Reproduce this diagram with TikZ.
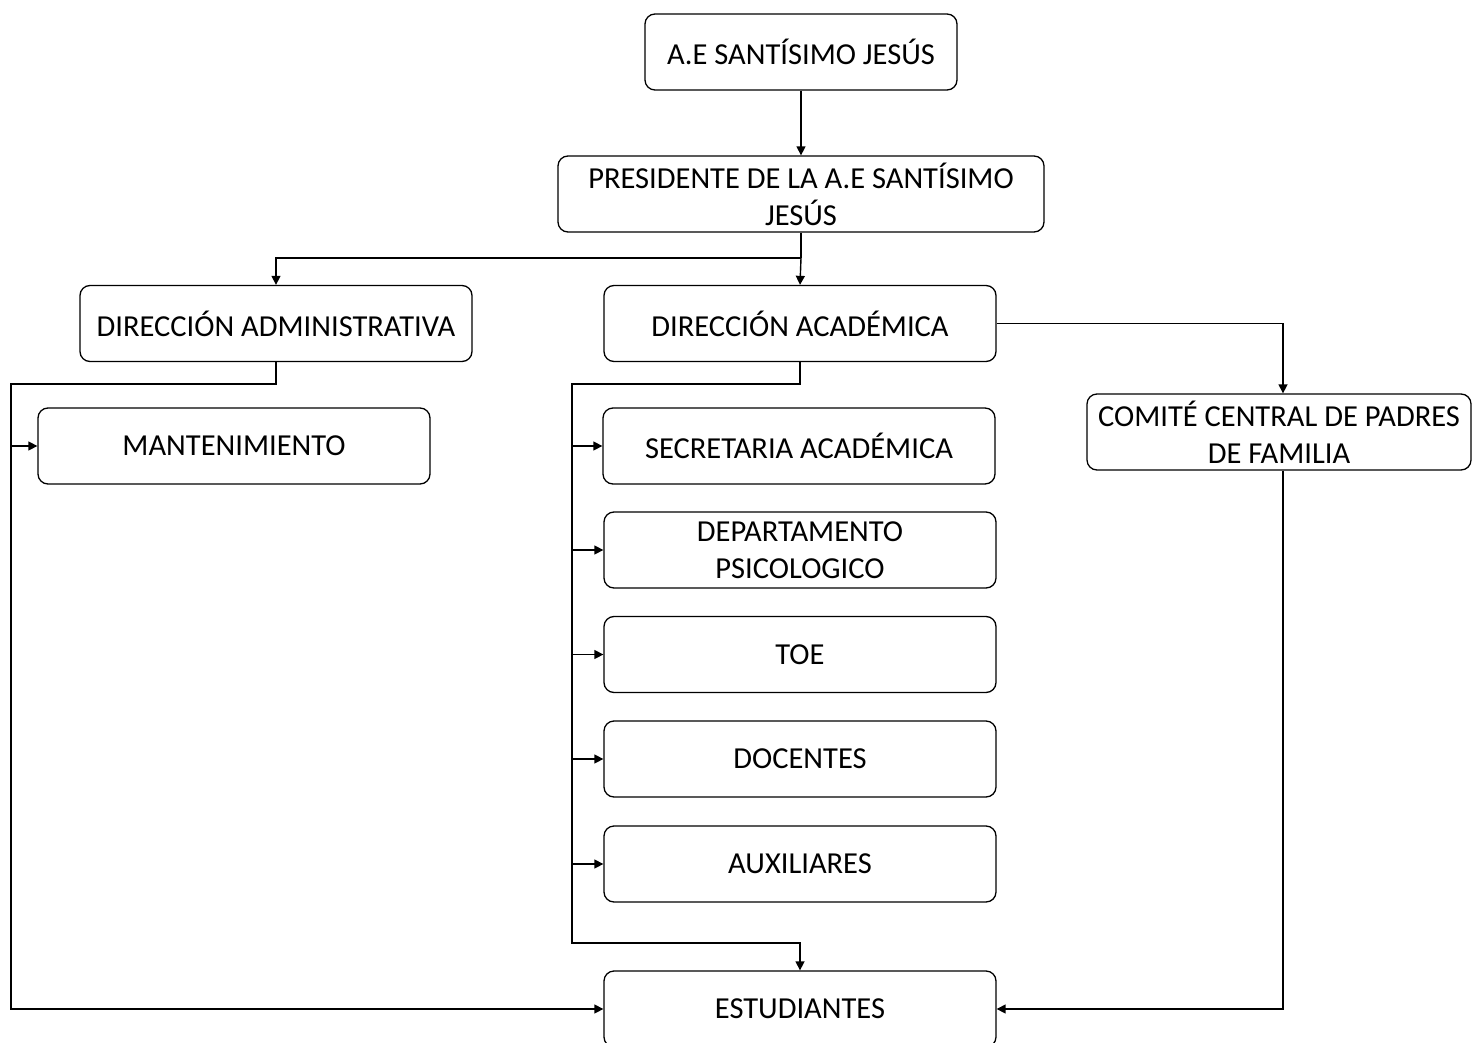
\documentclass[tikz,border=0pt]{standalone}
\usepackage{fontspec}
\setmainfont{Carlito}
\usetikzlibrary{arrows.meta}
\begin{document}
\begin{tikzpicture}[x=1pt,y=-1pt,
  box/.style={draw, line width=1.3pt, rounded corners=10pt, minimum width=392pt,
    minimum height=76pt, inner sep=0pt, align=center, font=\fontsize{30.5}{37}\selectfont},
  conn/.style={line width=1.4pt},
  arr/.style={conn, -{Triangle[length=9pt,width=9pt]}}]
\useasboundingbox (0,0) rectangle (1472,1043);
\node[box, minimum width=312pt] (top) at (801,52) {A.E SANTÍSIMO JESÚS};
\node[box, minimum width=486pt] (pres) at (801,194) {PRESIDENTE DE LA A.E SANTÍSIMO\\JESÚS};
\node[box] (adm) at (276,323.5) {DIRECCIÓN ADMINISTRATIVA};
\node[box] (aca) at (800,323.5) {DIRECCIÓN ACADÉMICA};
\node[box] (mant) at (234,446) {MANTENIMIENTO};
\node[box] (sec) at (799,446) {SECRETARIA ACADÉMICA};
\node[box] (dep) at (800,550) {DEPARTAMENTO\\PSICOLOGICO};
\node[box] (toe) at (800,654.5) {TOE};
\node[box] (doc) at (800,759) {DOCENTES};
\node[box] (aux) at (800,864) {AUXILIARES};
\node[box, minimum width=384pt] (com) at (1279,432) {COMITÉ CENTRAL DE PADRES\\DE FAMILIA};
\node[box] (est) at (800,1009) {ESTUDIANTES};
% top to president
\draw[arr] (top) -- (pres);
% president to directions
\coordinate (pj) at (801,258);
\draw[conn] (pres.south) -- (pj);
\draw[arr] (pj) -| (adm.north);
\draw[arr] (pj) -- (aca.north);
% administrative branch
\coordinate (lbus) at (11,384);
\draw[arr] (adm.south) |- (lbus) |- (est.west);
\draw[arr] (lbus |- mant.west) -- (mant.west);
% academic branch
\coordinate (mbus) at (572,384);
\coordinate (mbot) at (572,943);
\draw[arr] (aca.south) |- (mbus) -- (mbot) -| (est.north);
\foreach \n in {sec,dep,toe,doc,aux}
  \draw[arr] (mbus |- \n.west) -- (\n.west);
% committee
\draw[arr] (aca.east) -| ([xshift=4pt]com.north);
\draw[arr] ([xshift=4pt]com.south) |- (est.east);
\end{tikzpicture}
\end{document}
